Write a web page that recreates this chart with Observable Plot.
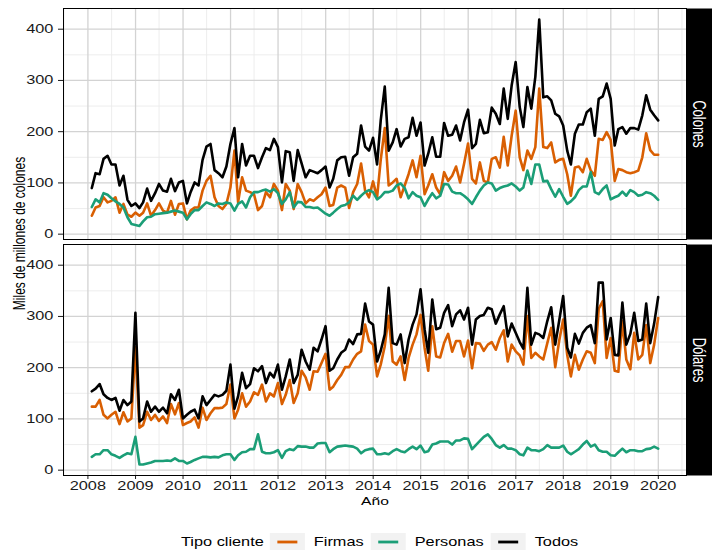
<!DOCTYPE html>
<html>
<head>
<meta charset="utf-8">
<script src="https://cdn.jsdelivr.net/npm/d3@7"></script>
<script src="https://cdn.jsdelivr.net/npm/@observablehq/plot@0.6"></script>
<style>
  body { margin: 0; background: #fff; }
  #chart { width: 712px; height: 550px; position: relative; font-family: "Liberation Sans", Arial, sans-serif; }
  #chart svg { display: block; }
</style>
</head>
<body>
<div id="chart"></div>
<script>
// ---- Categories / labels ----
const monedas = ["Colones", "Dólares"];
const tipos = ["Firmas", "Personas", "Todos"];
const colores = ["#D95F02", "#1B9E77", "#000000"];
const tituloY = "Miles de millones de colones";
const tituloX = "Año";
const tituloLeyenda = "Tipo cliente";
const anioInicio = 2008;           // first month: January 2008 (end of month)
const ticksY = [0, 100, 200, 300, 400];
const ticksYMenores = [50, 150, 250, 350];

// ---- Monthly values (Jan 2008 – Dec 2019), miles de millones de colones ----
const colonesFirmas = [
  36,52,55,72,62,65,72,42,59,38, 34,42,36,42,60,36,47,60,46,42,
  65,38,59,60,29,46,52,52,85,104, 114,72,55,49,59,91,163,62,111,85,
  82,78,47,55,82,72,98,85,47,98, 85,49,98,82,60,68,65,72,78,91,
  55,57,91,95,91,51,82,98,138,85, 72,103,72,145,207,95,101,108,72,95,
  117,144,111,153,78,95,117,91,78,121, 104,114,132,101,137,177,108,99,140,104,
  101,147,150,130,190,134,192,241,150,125, 163,147,170,284,170,168,179,140,145,147,
  117,75,130,132,121,147,124,114,186,184, 199,184,104,127,125,121,119,121,124,150,
  197,164,155,155
];
const colonesPersonas = [
  53,68,62,80,77,70,64,59,52,33, 20,18,16,25,33,34,39,40,41,42,
  44,46,44,42,29,39,47,47,55,62, 59,55,60,59,62,60,46,59,64,52,
  72,82,82,85,87,83,88,80,59,68, 82,52,63,62,53,53,51,52,46,40,
  36,42,49,55,57,62,75,67,75,82, 86,82,68,73,82,82,85,95,99,90,
  70,82,75,72,55,68,80,70,75,98, 97,83,80,80,75,68,59,72,85,95,
  101,99,85,90,93,95,99,93,85,91, 124,98,136,136,103,104,88,73,88,73,
  59,64,72,86,93,93,121,82,78,88, 95,68,72,75,83,75,86,82,75,77,
  82,80,75,67
];
const colonesTodos = [
  90,119,117,147,153,136,136,95,114,67, 55,60,51,62,89,65,80,98,85,83,
  108,84,101,104,60,82,101,95,145,171, 176,125,119,111,132,176,207,111,176,134,
  153,153,129,150,168,164,186,170,101,162, 160,104,164,138,111,125,122,119,125,132,
  91,108,144,150,151,114,150,157,212,171, 163,188,136,222,288,163,179,205,171,186,
  189,227,192,218,134,157,189,151,151,217, 192,194,212,183,218,243,168,176,223,197,
  199,247,235,215,284,225,290,336,248,209, 287,245,307,419,267,269,261,235,230,212,
  163,136,196,214,214,238,245,192,264,269, 294,264,173,205,209,196,207,207,204,232,
  271,243,232,222
];
const dolaresFirmas = [
  124,124,137,108,101,108,114,90,113,95, 101,240,83,88,114,98,108,96,105,92,
  129,109,131,88,92,95,103,83,122,98, 111,121,121,122,129,167,101,118,150,124,
  134,152,147,167,134,150,144,170,129,147, 176,131,150,194,181,157,193,192,209,227,
  157,163,176,186,201,201,216,227,232,284, 252,245,183,206,242,301,212,206,222,176,
  219,245,265,303,239,194,281,222,220,248, 266,231,252,252,222,253,199,248,247,233,
  245,250,235,258,273,212,245,232,224,206, 301,219,229,222,216,248,278,201,252,294,
  225,183,225,196,216,232,229,209,315,330, 219,258,194,192,291,216,197,268,216,225,
  283,209,245,297
];
const dolaresPersonas = [
  26,31,31,39,39,31,28,24,29,33, 31,65,11,11,13,15,18,18,18,19,
  18,23,18,18,13,16,20,23,26,26, 25,26,25,29,31,31,20,29,35,36,
  41,41,70,36,33,33,35,39,24,37, 41,39,47,46,46,44,44,52,53,53,
  35,41,46,47,48,47,46,42,33,39, 41,42,31,31,33,31,37,41,37,35,
  41,46,41,48,35,37,50,52,56,56, 56,50,58,58,62,61,41,49,57,65,
  70,61,49,44,49,42,42,39,31,29, 44,39,39,37,41,49,44,44,44,48,
  36,31,36,41,50,57,46,50,39,36, 36,29,28,35,42,35,39,39,37,37,
  41,42,46,42
];
const dolaresTodos = [
  154,159,168,148,141,137,141,116,137,127, 134,307,95,101,134,114,124,114,122,111,
  148,137,157,101,108,114,118,101,144,127, 137,147,144,147,155,206,120,144,190,160,
  168,199,193,203,170,190,181,206,157,183, 216,170,186,235,212,196,239,232,255,281,
  194,199,216,229,235,255,246,265,266,325, 290,284,212,233,265,356,248,245,265,209,
  255,284,304,353,275,229,333,275,278,307, 322,281,304,312,294,317,245,294,301,303,
  317,314,286,304,320,261,286,268,250,237, 356,245,268,265,258,291,318,245,291,340,
  239,220,266,247,268,278,283,248,366,366, 255,297,225,224,327,245,266,307,252,255,
  325,248,286,338
];

// ---- Build table ----
const series = {
  "Colones": {"Firmas": colonesFirmas, "Personas": colonesPersonas, "Todos": colonesTodos},
  "Dólares": {"Firmas": dolaresFirmas, "Personas": dolaresPersonas, "Todos": dolaresTodos}
};
const fechas = colonesTodos.map((_, k) => new Date(Date.UTC(anioInicio, k + 1, 0))); // end of month
const filas = [];
for (const m of monedas) for (const t of tipos) {
  series[m][t].forEach((v, k) => filas.push({moneda: m, tipo: t, fecha: fechas[k], valor: v}));
}

// ggplot-like 5% expansion
const [f0, f1] = d3.extent(fechas);
const span = f1 - f0;
const xDominio = [new Date(+f0 - 0.05 * span), new Date(+f1 + 0.05 * span)];
const allV = filas.map(d => d.valor);
const [v0, v1] = d3.extent(allV);
const yDominio = [v0 - 0.05 * (v1 - v0) - 1, v1 + 0.05 * (v1 - v0) + 1];

const ticksX = d3.utcYear.range(new Date(Date.UTC(anioInicio, 0, 1)), new Date(Date.UTC(2021, 0, 1)));
const ticksXMenores = d3.utcYear.range(new Date(Date.UTC(anioInicio - 1, 0, 1)), new Date(Date.UTC(2021, 0, 1)))
  .map(d => d3.utcMonth.offset(d, 6))
  .filter(d => d > xDominio[0] && d < xDominio[1]);

const FONT = '"Liberation Sans", Arial, sans-serif';
const STRETCH = 1.36;

const plot = Plot.plot({
  width: 712,
  height: 520,
  marginLeft: 63,
  marginRight: 26,
  marginTop: 8.3,
  marginBottom: 44.6,
  style: {fontFamily: FONT, fontSize: "12px", color: "#1a1a1a", background: "white", overflow: "visible"},
  x: {type: "utc", domain: xDominio, ticks: ticksX, tickFormat: d3.utcFormat("%Y"), tickSize: 4, tickPadding: 2, label: null},
  y: {domain: yDominio, ticks: ticksY, tickSize: 5, tickPadding: 5, label: null},
  fy: {domain: monedas, paddingInner: 0.0221, paddingOuter: 0, axis: null, label: null},
  color: {domain: tipos, range: colores},
  marks: [
    Plot.ruleX(ticksXMenores, {stroke: "#ebebeb", strokeWidth: 0.9}),
    Plot.ruleY(ticksYMenores, {stroke: "#ebebeb", strokeWidth: 0.9}),
    Plot.ruleX(ticksX, {stroke: "#d3d3d3", strokeWidth: 1.3}),
    Plot.ruleY(ticksY, {stroke: "#d3d3d3", strokeWidth: 1.3}),
    ...tipos.map(t => Plot.line(filas.filter(d => d.tipo === t), {
      x: "fecha", y: "valor", fy: "moneda", stroke: "tipo", strokeWidth: 2.6, strokeLinejoin: "round"
    })),
    Plot.frame({stroke: "black", strokeWidth: 1})
  ]
});

const cont = document.getElementById("chart");
cont.append(plot);
const svg = d3.select(plot);

// Stretch the axis tick labels horizontally (the reference text is widened)
svg.selectAll("text").each(function() {
  const bb = this.getBBox();
  const anchor = getComputedStyle(this).textAnchor || this.getAttribute("text-anchor") || "start";
  let ax = bb.x;
  if (anchor === "middle") ax = bb.x + bb.width / 2;
  else if (anchor === "end") ax = bb.x + bb.width;
  const old = this.getAttribute("transform") || "";
  this.setAttribute("transform", `${old} translate(${ax},0) scale(${STRETCH},1) translate(${-ax},0)`);
});

// Panel rectangles (from the frame mark)
const svgBox = plot.getBoundingClientRect();
const paneles = [];
svg.selectAll('g[aria-label="frame"] rect').each(function() {
  const r = this.getBoundingClientRect();
  paneles.push({x: r.left - svgBox.left, y: r.top - svgBox.top, w: r.width, h: r.height});
});
paneles.sort((a, b) => a.y - b.y);

// Facet strips on the right
const W = 712;
paneles.forEach((p, i) => {
  const sx = p.x + p.w + 0.5;
  svg.append("rect").attr("x", sx).attr("y", p.y).attr("width", W - sx).attr("height", p.h).attr("fill", "black");
  svg.append("text")
    .attr("transform", `translate(${(sx + W) / 2},${p.y + p.h / 2}) scale(${STRETCH},1) rotate(90)`)
    .attr("text-anchor", "middle").attr("dominant-baseline", "central")
    .attr("fill", "white").style("font", `13px ${FONT}`)
    .text(monedas[i]);
});

// Axis titles
if (paneles.length) {
  const top = paneles[0].y, bot = paneles[paneles.length - 1].y + paneles[paneles.length - 1].h;
  svg.append("text")
    .attr("transform", `translate(19,${(top + bot) / 2 - 8.5}) scale(${STRETCH},1) rotate(-90)`)
    .attr("text-anchor", "middle").attr("dominant-baseline", "central")
    .attr("fill", "black").style("font", `12px ${FONT}`)
    .text(tituloY);
  const cx = paneles[0].x + paneles[0].w / 2;
  svg.append("text")
    .attr("transform", `translate(${cx},504.5) scale(${STRETCH},1)`)
    .attr("text-anchor", "middle")
    .attr("fill", "black").style("font", `11.5px ${FONT}`)
    .text(tituloX);
}

// Legend (below the plot)
const ley = d3.select(cont).append("svg").attr("width", 712).attr("height", 30)
  .style("font-family", FONT);
const cy = 22;
function addText(x, txt) {
  const t = ley.append("text").attr("x", 0).attr("y", 0)
    .attr("dominant-baseline", "central").attr("fill", "black").style("font-size", "12px").text(txt);
  const w = t.node().getComputedTextLength() * STRETCH;
  t.attr("transform", `translate(${x},${cy}) scale(${STRETCH},1)`);
  return w;
}
let cur = 181;
cur += addText(cur, tituloLeyenda) + 6;
tipos.forEach((t, i) => {
  ley.append("rect").attr("x", cur).attr("y", cy - 9).attr("width", 35).attr("height", 18).attr("fill", "#f2f2f2");
  ley.append("line").attr("x1", cur + 7.5).attr("x2", cur + 27.5).attr("y1", cy).attr("y2", cy)
    .attr("stroke", colores[i]).attr("stroke-width", 2.8);
  cur += 35 + 9;
  cur += addText(cur, t) + 7;
});
</script>
</body>
</html>
